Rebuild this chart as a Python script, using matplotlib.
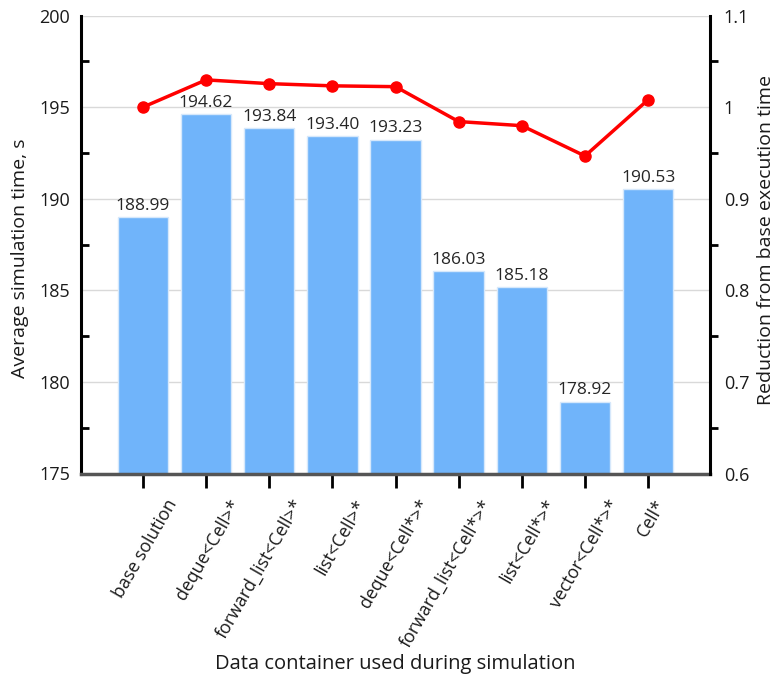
import matplotlib
matplotlib.use("Agg")
import matplotlib.pyplot as plt
import matplotlib.transforms as mtransforms
from matplotlib.ticker import MultipleLocator

plt.rcParams['font.family'] = ['Open Sans', 'DejaVu Sans']

categories = ["base solution", "deque<Cell>*", "forward_list<Cell>*", "list<Cell>*",
              "deque<Cell*>*", "forward_list<Cell*>*", "list<Cell*>*", "vector<Cell*>*", "Cell*"]
sim_time = [188.99, 194.62, 193.84, 193.40, 193.23, 186.03, 185.18, 178.92, 190.53]
reduction = [1.000, 1.0298, 1.0257, 1.0233, 1.0224, 0.9843, 0.9798, 0.9467, 1.0081]

fig = plt.figure(figsize=(7.8, 6.84), dpi=100)
ax = fig.add_axes([81/780, 1-473.5/684, (710-81)/780, (473.5-15.6)/684])
x = list(range(len(categories)))

ax.bar(x, sim_time, width=0.8, color='#70b4fa', edgecolor='#d6e8fb', linewidth=1.0, zorder=2)
ax.set_ylim(175, 200)
ax.set_xlim(-0.98, len(categories) - 0.02)
ax.yaxis.set_major_locator(MultipleLocator(5))
ax.yaxis.set_minor_locator(MultipleLocator(2.5))
ax.grid(axis='y', which='major', color='#d9d9d9', linewidth=1.0, zorder=0)
ax.set_axisbelow(True)

for xi, v in zip(x, sim_time):
    ax.annotate(f"{v:.2f}", (xi, v), xytext=(0, 2.5), textcoords='offset points',
                ha='center', va='bottom', fontsize=12.5, color='#262626', zorder=5)

ax.spines['top'].set_visible(False)
ax.spines['right'].set_visible(False)
ax.spines['left'].set_linewidth(2.2)
ax.spines['left'].set_color('black')
ax.spines['bottom'].set_linewidth(2.5)
ax.spines['bottom'].set_color('#555555')

ax.tick_params(axis='y', which='major', length=0, labelsize=13, pad=8, labelcolor='#1a1a1a')
ax.tick_params(axis='y', which='minor', direction='in', length=6, width=2, color='black')
ax.tick_params(axis='x', which='major', direction='out', length=10, width=2, color='black',
               labelsize=12.8, pad=4, labelcolor='#1a1a1a')

ax.set_xticks(x)
ax.set_xticklabels(categories, rotation=60, ha='right', va='center', rotation_mode='anchor')
for lbl in ax.get_xticklabels():
    dx = 13/100 if lbl.get_text() == "Cell*" else 30/100
    offset = mtransforms.ScaledTranslation(dx, -8/100, fig.dpi_scale_trans)
    lbl.set_transform(lbl.get_transform() + offset)

ax.set_ylabel("Average simulation time, s", fontsize=14, color='#1a1a1a')
ax.yaxis.set_label_coords(-0.083, 0.47)
ax.set_xlabel("Data container used during simulation", fontsize=14.5, color='#1a1a1a')
ax.xaxis.set_label_coords(0.5, -0.395)

ax2 = ax.twinx()
ax2.plot(x, reduction, color='#ff0000', linewidth=2.5, marker='o', markersize=8, zorder=6)
ax2.set_ylim(0.6, 1.1)
ax2.yaxis.set_minor_locator(MultipleLocator(0.05))
ax2.set_yticks([0.6, 0.7, 0.8, 0.9, 1.0, 1.1])
ax2.set_yticklabels(["0.6", "0.7", "0.8", "0.9", "1", "1.1"])
ax2.tick_params(axis='y', which='major', length=0, labelsize=13, pad=10, labelcolor='#1a1a1a')
ax2.tick_params(axis='y', which='minor', direction='out', length=6, width=2, color='black')
for s in ['top', 'left', 'bottom']:
    ax2.spines[s].set_visible(False)
ax2.spines['right'].set_linewidth(2.2)
ax2.spines['right'].set_color('black')
ax2.set_ylabel("Reduction from base execution time", fontsize=14, color='#1a1a1a')
ax2.yaxis.set_label_coords(1.075, 0.51)

fig.savefig("out.png", dpi=100)
